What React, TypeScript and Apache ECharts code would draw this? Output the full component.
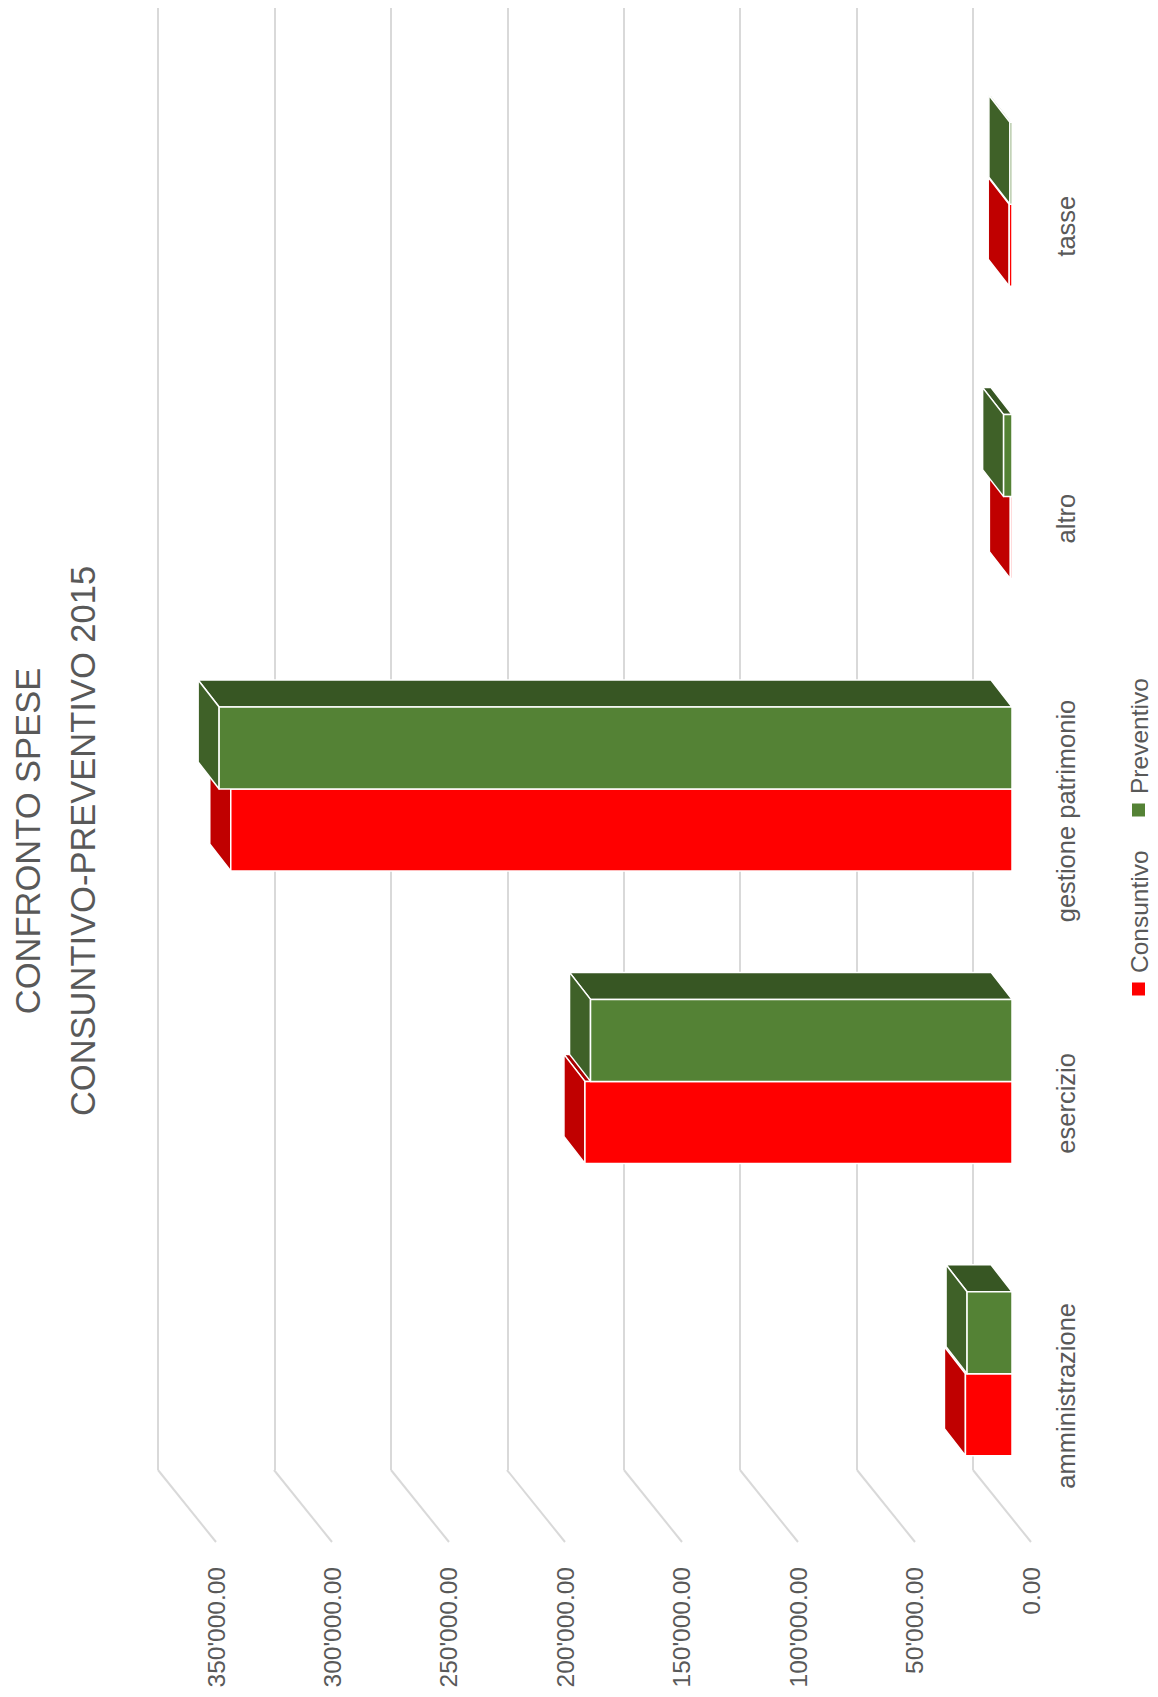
import React, { useEffect, useRef } from "react";
import * as echarts from "echarts";

// ---- data ----
const categories = ["amministrazione", "esercizio", "gestione patrimonio", "altro", "tasse"];
const seriesNames = ["Consuntivo", "Preventivo"];
const consuntivo = [20000, 183400, 335500, 700, 1200];
const preventivo = [19300, 181000, 340500, 3600, 900];
const valueTicks = [0, 50000, 100000, 150000, 200000, 250000, 300000, 350000];
const titleLines = ["CONFRONTO SPESE", "CONSUNTIVO-PREVENTIVO 2015"];

// ---- layout / style ----
const W = 1158;
const H = 1697;
const FONT = "'Liberation Sans', Arial, sans-serif";
const TEXT = "#595959";
const GRID_COLOR = "#d9d9d9";
const BACK = { left: 158, right: 185, top: 8, bottom: 227 };
const FLOOR = { dx: 58, dy: 72 };
const FRONT = { dx: 39, dy: 50 };
const DEPTH = { dx: -21, dy: -27 };
const BAR_H = 82;

const faceColors = [
  { front: "#ff0000", top: "#a80000", side: "#c00000", legend: "#ff0000" },
  { front: "#548235", top: "#375623", side: "#3f6128", legend: "#548235" },
];

function fmt(v: number) {
  const parts = v.toFixed(2).split(".");
  return parts[0].replace(/\B(?=(\d{3})+(?!\d))/g, "'") + "." + parts[1];
}

const makeBarRender = (s: number) => (params: any, api: any) => {
  const v = api.value(0);
  const cat = api.value(1);
  const p0 = api.coord([0, cat]);
  const p1 = api.coord([v, cat]);
  const xr = p0[0] + FRONT.dx;
  const xl = p1[0] + FRONT.dx;
  const cy = p0[1] + FRONT.dy;
  const y0 = s === 0 ? cy : cy - BAR_H;
  const y1 = y0 + BAR_H;
  const c = faceColors[s];
  const st = { stroke: "#ffffff", lineWidth: 1.5, lineJoin: "round" };
  return {
    type: "group",
    children: [
      {
        type: "polygon",
        shape: {
          points: [
            [xl, y0],
            [xr, y0],
            [xr + DEPTH.dx, y0 + DEPTH.dy],
            [xl + DEPTH.dx, y0 + DEPTH.dy],
          ],
        },
        style: { fill: c.top, ...st },
      },
      {
        type: "polygon",
        shape: {
          points: [
            [xl, y0],
            [xl, y1],
            [xl + DEPTH.dx, y1 + DEPTH.dy],
            [xl + DEPTH.dx, y0 + DEPTH.dy],
          ],
        },
        style: { fill: c.side, ...st },
      },
      {
        type: "rect",
        shape: { x: xl, y: y0, width: Math.max(xr - xl, 0), height: BAR_H },
        style: { fill: c.front, ...st },
      },
    ],
  };
};

const floorRender = (params: any, api: any) => {
  const p = api.coord([api.value(0), 0]);
  const cs = params.coordSys;
  const yb = cs.y + cs.height;
  const x = Math.round(p[0]);
  return {
    type: "line",
    shape: { x1: x, y1: yb, x2: x + FLOOR.dx, y2: yb + FLOOR.dy },
    style: { stroke: GRID_COLOR, lineWidth: 2 },
  };
};

const valueAxisBase = {
  type: "value",
  inverse: true,
  min: valueTicks[0],
  max: valueTicks[valueTicks.length - 1],
  interval: valueTicks[1] - valueTicks[0],
  axisLine: { show: false },
  axisTick: { show: false },
};

const seriesData = [consuntivo, preventivo];

const legendGraphics: any[] = [];
const legendY = [989, 810];
seriesNames.forEach((name, i) => {
  legendGraphics.push({
    type: "rect",
    shape: { x: 1132, y: legendY[i] - 6.5, width: 13, height: 13 },
    style: { fill: faceColors[i].legend },
  });
  legendGraphics.push({
    type: "text",
    x: 1139,
    y: legendY[i] - 16,
    rotation: Math.PI / 2,
    style: {
      text: name,
      fontSize: 24.5,
      fontFamily: FONT,
      fill: TEXT,
      align: "left",
      textAlign: "left",
      verticalAlign: "middle",
      textVerticalAlign: "middle",
    },
  });
});

const option: any = {
  animation: false,
  backgroundColor: "#ffffff",
  textStyle: { fontFamily: FONT },
  grid: [
    { left: BACK.left, right: BACK.right, top: BACK.top, bottom: BACK.bottom },
    {
      left: BACK.left + FLOOR.dx,
      right: BACK.right - FLOOR.dx,
      top: BACK.top + FLOOR.dy,
      bottom: BACK.bottom - FLOOR.dy,
    },
  ],
  xAxis: [
    {
      ...valueAxisBase,
      gridIndex: 0,
      axisLabel: { show: false },
      splitLine: { show: true, lineStyle: { color: GRID_COLOR, width: 2 } },
    },
    {
      ...valueAxisBase,
      gridIndex: 1,
      splitLine: { show: false },
      axisLabel: {
        show: true,
        rotate: 90,
        margin: 25,
        fontSize: 24.5,
        color: TEXT,
        fontFamily: FONT,
        formatter: (v: number) => fmt(v),
      },
    },
  ],
  yAxis: [
    {
      type: "category",
      gridIndex: 0,
      data: categories,
      show: false,
    },
    {
      type: "category",
      gridIndex: 1,
      data: categories,
      position: "right",
      axisLine: { show: false },
      axisTick: { show: false },
      splitLine: { show: false },
      axisLabel: {
        show: true,
        rotate: 90,
        margin: 22,
        fontSize: 25.5,
        color: TEXT,
        fontFamily: FONT,
      },
    },
  ],
  graphic: [
    {
      type: "text",
      x: 28,
      y: 841,
      rotation: Math.PI / 2,
      style: {
        text: titleLines[0],
        fontSize: 34.5,
        fontFamily: FONT,
        fill: TEXT,
        align: "center",
        textAlign: "center",
        verticalAlign: "middle",
        textVerticalAlign: "middle",
      },
    },
    {
      type: "text",
      x: 82.5,
      y: 841,
      rotation: Math.PI / 2,
      style: {
        text: titleLines[1],
        fontSize: 34.5,
        fontFamily: FONT,
        fill: TEXT,
        align: "center",
        textAlign: "center",
        verticalAlign: "middle",
        textVerticalAlign: "middle",
      },
    },
    ...legendGraphics,
  ],
  series: [
    {
      type: "custom",
      name: "floor",
      xAxisIndex: 0,
      yAxisIndex: 0,
      silent: true,
      clip: false,
      z: 1,
      data: valueTicks.map((v) => [v, 0]),
      encode: { x: 0, y: 1 },
      renderItem: floorRender,
    },
    ...seriesNames.map((name, s) => ({
      type: "custom",
      name,
      xAxisIndex: 0,
      yAxisIndex: 0,
      clip: false,
      z: 2 + s,
      data: seriesData[s].map((v, i) => [v, i]),
      encode: { x: 0, y: 1 },
      renderItem: makeBarRender(s),
    })),
  ],
};

export default function App() {
  const ref = useRef<HTMLDivElement>(null);
  useEffect(() => {
    if (!ref.current) return;
    const chart = echarts.init(ref.current, null, { renderer: "svg" });
    chart.setOption(option);
    return () => chart.dispose();
  }, []);
  return (
    <div
      ref={ref}
      style={{ position: "fixed", left: 0, top: 0, width: W, height: H, background: "#fff" }}
    />
  );
}
